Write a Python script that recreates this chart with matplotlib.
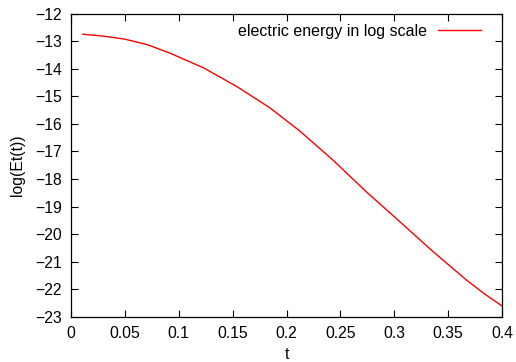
import matplotlib
matplotlib.use("Agg")
import matplotlib.pyplot as plt

plt.rcParams['font.family'] = ['Liberation Sans', 'DejaVu Sans']

# values
t = [0.011, 0.03, 0.05, 0.071, 0.092, 0.123, 0.154, 0.185, 0.212,
     0.243, 0.274, 0.305, 0.336, 0.367, 0.384, 0.400]
log_et = [-12.75, -12.82, -12.93, -13.13, -13.44, -13.97, -14.65, -15.43, -16.25,
          -17.31, -18.46, -19.54, -20.63, -21.66, -22.17, -22.60]
xticks = [0, 0.05, 0.1, 0.15, 0.2, 0.25, 0.3, 0.35, 0.4]
xtick_labels = ['0', '0.05', '0.1', '0.15', '0.2', '0.25', '0.3', '0.35', '0.4']
yticks = list(range(-23, -11))

fig = plt.figure(figsize=(5.16, 3.62), dpi=100)
ax = fig.add_axes([0.1376, 0.1243, 0.8353, 0.8384])

ax.plot(t, log_et, color='#ff0000', linewidth=1.0, label='electric energy in log scale')

ax.set_xlim(0, 0.4)
ax.set_ylim(-23, -12)
ax.set_xticks(xticks)
ax.set_xticklabels(xtick_labels)
ax.set_yticks(yticks)
ax.tick_params(direction='in', top=True, right=True, length=5, width=0.8,
               labelsize=11.3, pad=6.5)
for s in ax.spines.values():
    s.set_linewidth(0.9)

ax.set_xlabel('t', fontsize=11.3, labelpad=4)
ax.set_ylabel('log(Et(t))', fontsize=11.3, labelpad=7)

# gnuplot style key: text first, then the sample line
ax.legend(loc='upper right', frameon=False, markerfirst=False, handlelength=2.7,
          handletextpad=0.7, fontsize=11.5, borderaxespad=0.25,
          bbox_to_anchor=(0.976, 1.0))

fig.savefig('out.png', dpi=100)
